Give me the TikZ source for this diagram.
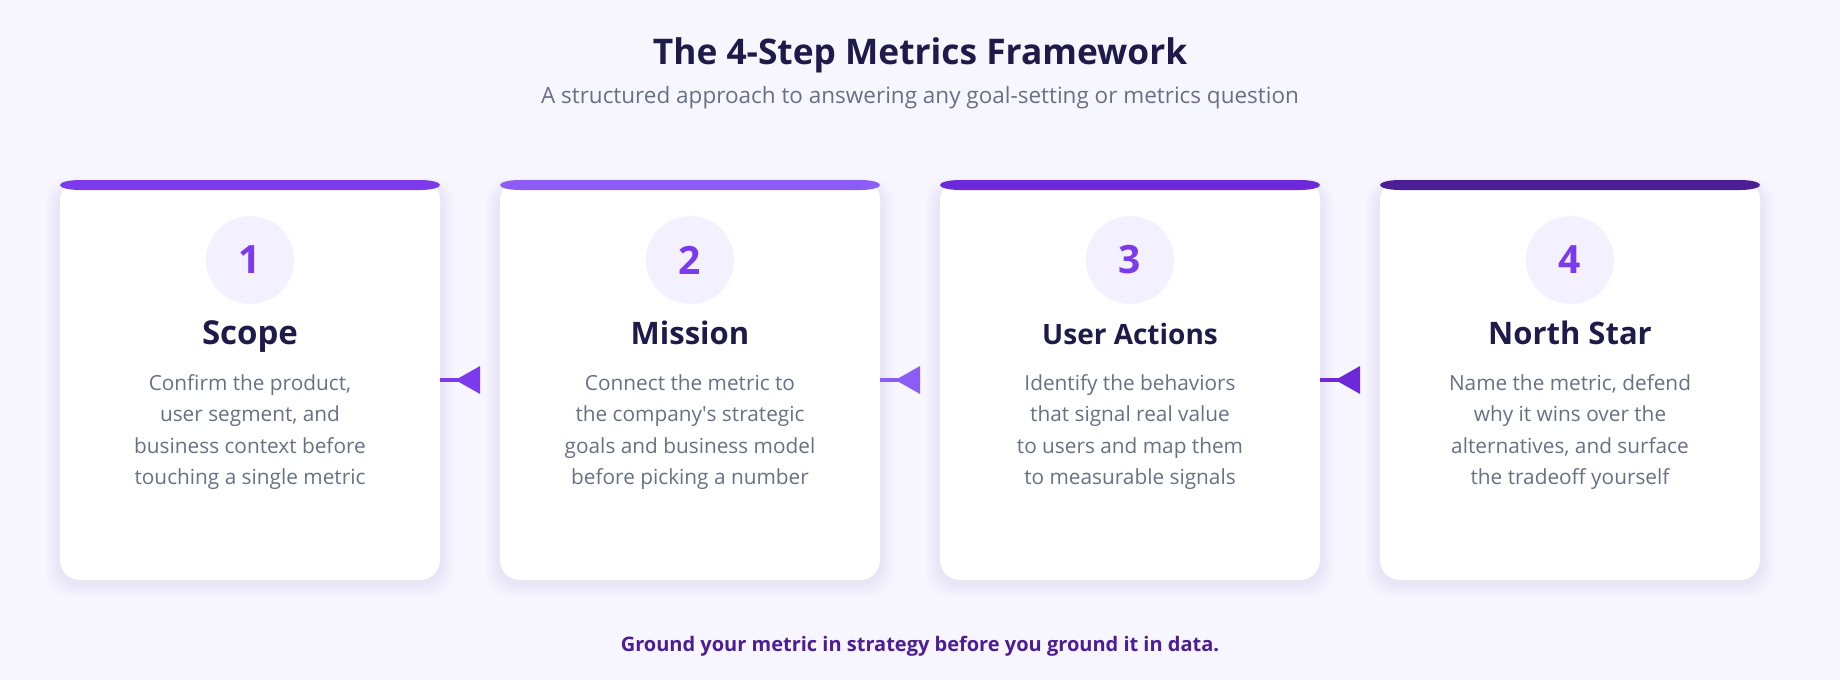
\documentclass[tikz,border=0pt]{standalone}
\usepackage{fontspec}
\setmainfont{Open Sans}
\usetikzlibrary{arrows.meta,calc}
\definecolor{bgc}{HTML}{F7F5FE}
\definecolor{shadowc}{HTML}{6A5AB8}
\definecolor{barA}{HTML}{7C3AED}
\definecolor{barB}{HTML}{8B5CF6}
\definecolor{barC}{HTML}{6D28D9}
\definecolor{barD}{HTML}{4C1D95}
\definecolor{circc}{HTML}{F3F0FF}
\definecolor{numc}{HTML}{7C3AED}
\definecolor{navy}{HTML}{1E1B4B}
\definecolor{grayc}{HTML}{687082}
\definecolor{footc}{HTML}{4C1D95}
\tikzset{
  card/.style={fill=white, rounded corners=20pt, minimum width=380pt, minimum height=400pt, inner sep=0pt, draw=none},
  numcirc/.style={circle, fill=circc, minimum size=88pt, inner sep=0pt, text=numc, font=\bfseries\fontsize{39}{39}\selectfont},
  cardtitle/.style={anchor=base, text=navy, inner sep=0pt},
  desc/.style={anchor=north, align=center, text=grayc, inner sep=0pt, font=\fontsize{20.8}{31.5}\selectfont},
  conn/.style={line width=4pt, -{Triangle[reversed,length=25pt,width=27pt]}},
}
\newcommand\stepcard[6]{%
  \pgfmathsetmacro\cx{250+440*#1}
  \foreach \i in {1,...,8}{\fill[shadowc,opacity=0.011,rounded corners=24pt] ({\cx-190-1.8*\i},{186-1.0*\i}) rectangle ({\cx+190+1.8*\i},{582+1.8*\i});}
  \node[card] (c#3) at (\cx,380) {};
  \fill[#2] ({\cx-170},180) -- ({\cx+170},180) arc[start angle=-90,end angle=90,x radius=20,y radius=5] -- ({\cx-170},190) arc[start angle=90,end angle=270,x radius=20,y radius=5] -- cycle;
  \node[numcirc] (n#3) at (\cx,260) {#3};
  \node[cardtitle, font=\bfseries\fontsize{#6}{#6}\selectfont] (t#3) at (\cx,344) {#4};
  \node[desc] (d#3) at (\cx,374) {#5};
}
\begin{document}
\begin{tikzpicture}[x=1pt,y=-1pt]
\useasboundingbox (0,0) rectangle (1840,680);
\fill[bgc] (0,0) rectangle (1840,680);
\node[anchor=base, text=navy, font=\bfseries\fontsize{35.3}{36}\selectfont] (title) at (920,64) {The 4-Step Metrics Framework};
\node[anchor=base, text=grayc, font=\fontsize{22.5}{26}\selectfont] (subtitle) at (920,103) {A structured approach to answering any goal-setting or metrics question};
\stepcard{0}{barA}{1}{Scope}{Confirm the product,\\user segment, and\\business context before\\touching a single metric}{33}
\stepcard{1}{barB}{2}{Mission}{Connect the metric to\\the company\textquotesingle s strategic\\goals and business model\\before picking a number}{31}
\stepcard{2}{barC}{3}{User Actions}{Identify the behaviors\\that signal real value\\to users and map them\\to measurable signals}{28}
\stepcard{3}{barD}{4}{North Star}{Name the metric, defend\\why it wins over the\\alternatives, and surface\\the tradeoff yourself}{31}
\draw[conn, barA] (c1.east) -- ++(40,0);
\draw[conn, barB] (c2.east) -- ++(40,0);
\draw[conn, barC] (c3.east) -- ++(40,0);
\node[anchor=base, text=footc, font=\bfseries\fontsize{20}{24}\selectfont] (footer) at (920,651) {Ground your metric in strategy before you ground it in data.};
\end{tikzpicture}
\end{document}
